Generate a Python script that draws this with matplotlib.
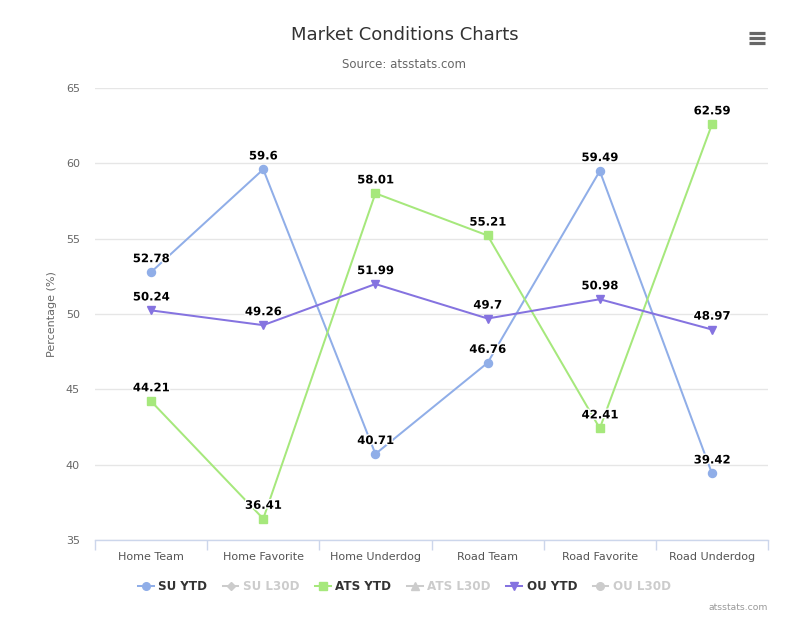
"""Market conditions line chart (SU / ATS / OU percentages by situation)."""

import matplotlib
matplotlib.use("Agg")
import matplotlib.pyplot as plt
import matplotlib.patheffects as pe
from matplotlib.lines import Line2D

categories = ["Home Team", "Home Favorite", "Home Underdog",
              "Road Team", "Road Favorite", "Road Underdog"]
su_ytd = [52.78, 59.6, 40.71, 46.76, 59.49, 39.42]
ats_ytd = [44.21, 36.41, 58.01, 55.21, 42.41, 62.59]
ou_ytd = [50.24, 49.26, 51.99, 49.7, 50.98, 48.97]
y_ticks = [35, 40, 45, 50, 55, 60, 65]

legend_names = ["SU YTD", "SU L30D", "ATS YTD", "ATS L30D", "OU YTD", "OU L30D"]
legend_visible = [True, False, True, False, True, False]

SU_COLOR = "#90aee8"
ATS_COLOR = "#a6e87c"
OU_COLOR = "#8573e0"
HIDDEN = "#cccccc"

plt.rcParams["font.family"] = ["DejaVu Sans"]

fig = plt.figure(figsize=(8.09, 6.29), dpi=100)
ax = fig.add_axes([0.1174, 0.1415, 0.832, 0.7186])

x = list(range(len(categories)))
series = [
    (su_ytd, SU_COLOR, "o"),
    (ats_ytd, ATS_COLOR, "s"),
    (ou_ytd, OU_COLOR, "v"),
]
for vals, color, marker in series:
    ax.plot(x, vals, color=color, lw=1.45, marker=marker, ms=5.8,
            mec=color, mfc=color, zorder=3)
    for xi, v in zip(x, vals):
        ax.annotate(f"{v:g}", (xi, v), xytext=(0, 5), textcoords="offset points",
                    ha="center", va="bottom", fontsize=8.4, fontweight="bold",
                    color="black", zorder=5,
                    path_effects=[pe.withStroke(linewidth=2, foreground="white")])

ax.set_xlim(-0.5, len(categories) - 0.5)
ax.set_ylim(35, 65)
ax.set_yticks(y_ticks)
ax.set_xticks(x)
ax.set_xticklabels(categories)
ax.set_xticks([i - 0.5 for i in range(len(categories) + 1)], minor=True)
ax.tick_params(axis="x", which="major", length=0, pad=9, labelsize=8, labelcolor="#555555")
ax.tick_params(axis="x", which="minor", length=7, color="#ccd6eb", width=1)
ax.tick_params(axis="y", length=0, pad=21, labelsize=8, labelcolor="#666666")
for lab in ax.get_yticklabels():
    lab.set_horizontalalignment("left")
ax.grid(axis="y", color="#e6e6e6", lw=1)
ax.set_axisbelow(True)
for side in ["top", "right", "left"]:
    ax.spines[side].set_visible(False)
ax.spines["bottom"].set_color("#ccd6eb")
ax.spines["bottom"].set_linewidth(1)
ax.set_ylabel("Percentage (%)", fontsize=8, color="#666666")
ax.yaxis.set_label_coords(-0.0565, 0.5)

fig.text(0.5, 1 - 35 / 629, "Market Conditions Charts", ha="center", va="center",
         fontsize=13, color="#333333")
fig.text(0.5, 1 - 65 / 629, "Source: atsstats.com", ha="center", va="center",
         fontsize=8.5, color="#666666")
fig.text(768 / 809, 1 - 608 / 629, "atsstats.com", ha="right", va="center",
         fontsize=6.7, color="#999999")

# hamburger menu icon
for yy in [33, 38, 43]:
    fig.add_artist(Line2D([749 / 809, 765 / 809], [1 - yy / 629] * 2,
                          color="#666666", lw=2.3, solid_capstyle="butt"))

legend_markers = ["o", "D", "s", "^", "v", "o"]
legend_colors = [SU_COLOR, HIDDEN, ATS_COLOR, HIDDEN, OU_COLOR, HIDDEN]
handles = []
for name, m, c in zip(legend_names, legend_markers, legend_colors):
    ms = 4.5 if m == "D" else 5.5
    handles.append(Line2D([0], [0], color=c, lw=1.45, marker=m, ms=ms, mfc=c, mec=c))
leg = fig.legend(handles, legend_names, loc="center", bbox_to_anchor=(0.5, 1 - 587 / 629),
                 ncol=6, frameon=False, handlelength=1.3, handletextpad=0.4,
                 columnspacing=1.3, prop={"size": 8.6, "weight": "bold"})
for txt, vis in zip(leg.get_texts(), legend_visible):
    txt.set_color("#333333" if vis else HIDDEN)

fig.savefig("out.png", dpi=100)
